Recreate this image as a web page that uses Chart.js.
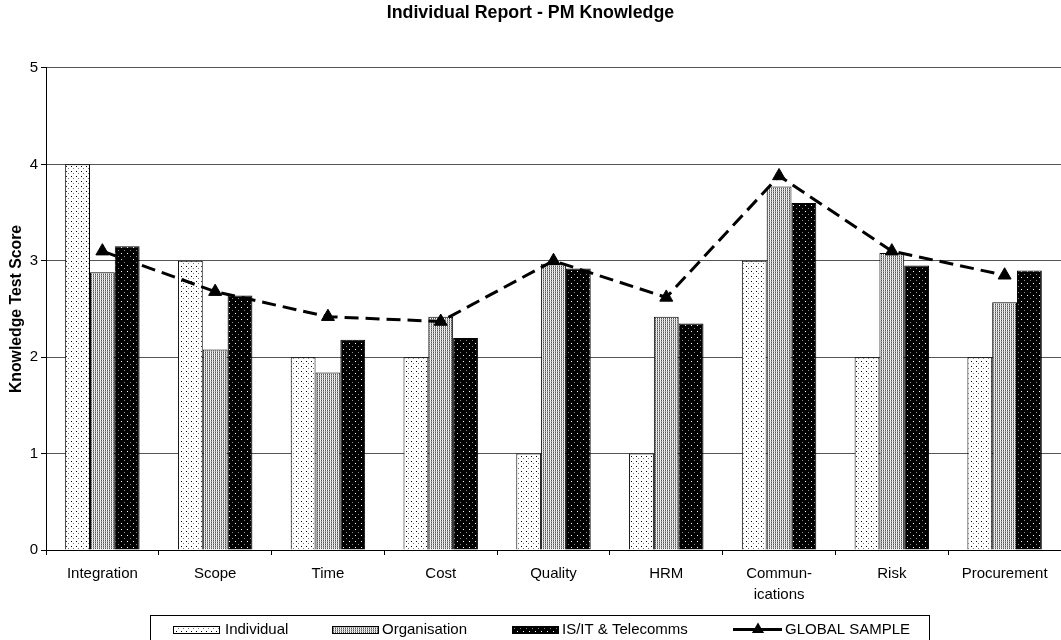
<!DOCTYPE html>
<html>
<head>
<meta charset="utf-8">
<title>Individual Report - PM Knowledge</title>
<script src="https://cdn.jsdelivr.net/npm/chart.js@4.4.1/dist/chart.umd.min.js"></script>
<style>
  html, body { margin: 0; padding: 0; background: #fff; }
  canvas { display: block; }
</style>
</head>
<body>
<canvas id="c" width="1061" height="640"></canvas>
<script>
// Knowledge areas (x axis)
const categories = ['Integration', 'Scope', 'Time', 'Cost', 'Quality', 'HRM', ['Commun-', 'ications'], 'Risk', 'Procurement'];

// Scores per series
const individual    = [4, 3, 2, 2, 1, 1, 3, 2, 2];
const organisation  = [2.88, 2.08, 1.84, 2.42, 2.97, 2.42, 3.77, 3.08, 2.57];
const isitTelecomms = [3.15, 2.64, 2.18, 2.20, 2.92, 2.35, 3.60, 2.95, 2.90];
const globalSample  = [3.10, 2.68, 2.42, 2.37, 3.00, 2.62, 3.88, 3.10, 2.85];

// Y axis range / ticks
const yTicks = [0, 1, 2, 3, 4, 5];

const FONT = "'Liberation Sans', Arial, sans-serif";
const canvas = document.getElementById('c');
const ctx0 = canvas.getContext('2d');

// Small tiled fills that imitate the classic dotted/hatched bar textures
function makePattern(w, h, bg, dots) {
  const t = document.createElement('canvas');
  t.width = w; t.height = h;
  const x = t.getContext('2d');
  x.fillStyle = bg;
  x.fillRect(0, 0, w, h);
  dots.forEach(([px, py, col]) => { x.fillStyle = col; x.fillRect(px, py, 1, 1); });
  return ctx0.createPattern(t, 'repeat');
}

const patIndividual = makePattern(5, 5, '#ffffff', [[1, 1, '#000'], [3, 3, '#777']]);
const patOrganisation = makePattern(2, 2, '#ffffff', [[1, 0, '#555'], [1, 1, '#a0a0a0'], [0, 1, '#d8d8d8']]);
const patIsit = makePattern(6, 6, '#000000', [[1, 1, '#fff'], [4, 4, '#888']]);

// Boxed legend along the bottom edge
const boxLegend = {
  id: 'boxLegend',
  afterDraw(chart) {
    const ctx = chart.ctx;
    const ds = chart.data.datasets;
    ctx.save();
    ctx.strokeStyle = '#000';
    ctx.lineWidth = 1;
    ctx.strokeRect(150.5, 615.5, 779, 40);

    ctx.font = '15px ' + FONT;
    ctx.fillStyle = '#000';
    ctx.textBaseline = 'middle';
    ctx.textAlign = 'left';
    const cy = 629.5;

    const barItems = [
      { ds: ds[1], sx: 173, tx: 225 },
      { ds: ds[2], sx: 332, tx: 382 },
      { ds: ds[3], sx: 512, tx: 562 }
    ];
    barItems.forEach(it => {
      ctx.fillStyle = it.ds.backgroundColor;
      ctx.fillRect(it.sx, 626, 46, 7);
      ctx.strokeStyle = '#000';
      ctx.strokeRect(it.sx + 0.5, 626.5, 46, 7);
      ctx.fillStyle = '#000';
      ctx.fillText(it.ds.label, it.tx, cy);
    });

    // line + marker item
    ctx.strokeStyle = '#000';
    ctx.lineWidth = 3;
    ctx.beginPath();
    ctx.moveTo(733, cy);
    ctx.lineTo(782, cy);
    ctx.stroke();
    const r = 7, mx = 758;
    ctx.beginPath();
    ctx.moveTo(mx, cy - r);
    ctx.lineTo(mx + r * Math.sin(2 * Math.PI / 3), cy - r * Math.cos(2 * Math.PI / 3));
    ctx.lineTo(mx + r * Math.sin(4 * Math.PI / 3), cy - r * Math.cos(4 * Math.PI / 3));
    ctx.closePath();
    ctx.fillStyle = '#000';
    ctx.fill();
    ctx.fillText(ds[0].label, 785, cy);
    ctx.restore();
  }
};

new Chart(canvas, {
  type: 'bar',
  data: {
    labels: categories,
    datasets: [
      {
        type: 'line',
        label: 'GLOBAL SAMPLE',
        data: globalSample,
        borderColor: '#000',
        borderWidth: 3,
        borderDash: [14, 7],
        tension: 0,
        fill: false,
        pointStyle: 'triangle',
        pointRadius: 7.5,
        pointBackgroundColor: '#000',
        pointBorderColor: '#000',
        pointBorderWidth: 1,
        order: 0
      },
      {
        label: 'Individual',
        data: individual,
        backgroundColor: patIndividual,
        borderColor: '#000',
        borderWidth: 1,
        order: 1
      },
      {
        label: 'Organisation',
        data: organisation,
        backgroundColor: patOrganisation,
        borderColor: '#000',
        borderWidth: 1,
        order: 1
      },
      {
        label: 'IS/IT & Telecomms',
        data: isitTelecomms,
        backgroundColor: patIsit,
        borderColor: '#000',
        borderWidth: 1,
        order: 1
      }
    ]
  },
  options: {
    responsive: false,
    animation: false,
    devicePixelRatio: 1,
    layout: { autoPadding: false, padding: { left: 0, right: 0, top: 0, bottom: 40 } },
    datasets: {
      bar: { categoryPercentage: 0.66, barPercentage: 1.0 }
    },
    plugins: {
      legend: { display: false },
      tooltip: { enabled: false },
      title: {
        display: true,
        text: 'Individual Report - PM Knowledge',
        color: '#000',
        font: { family: FONT, size: 17.8, weight: 'bold' },
        padding: { top: 2, bottom: 44.6 }
      }
    },
    scales: {
      x: {
        offset: true,
        grid: {
          offset: true,
          drawOnChartArea: false,
          drawTicks: true,
          tickLength: 5,
          color: '#000'
        },
        border: { color: '#000', width: 1 },
        ticks: {
          color: '#000',
          font: { family: FONT, size: 15, lineHeight: 1.35 },
          padding: 9,
          maxRotation: 0,
          autoSkip: false
        },
        afterFit(scale) {
          scale.height = 50;
          scale.paddingLeft = 0;
          scale.paddingRight = 0;
        }
      },
      y: {
        min: yTicks[0],
        max: yTicks[yTicks.length - 1],
        afterBuildTicks(scale) { scale.ticks = yTicks.map(v => ({ value: v })); },
        grid: {
          color: '#555',
          lineWidth: 1,
          drawTicks: true,
          tickLength: 5,
          tickColor: '#000'
        },
        border: { color: '#000', width: 1 },
        ticks: {
          color: '#000',
          font: { family: FONT, size: 15 },
          padding: 3
        },
        title: {
          display: true,
          text: 'Knowledge Test Score',
          color: '#000',
          font: { family: FONT, size: 15.8, weight: 'bold' },
          padding: { top: 7, bottom: 0 }
        },
        afterFit(scale) { scale.width = 46; }
      }
    }
  },
  plugins: [boxLegend]
});
</script>
</body>
</html>
